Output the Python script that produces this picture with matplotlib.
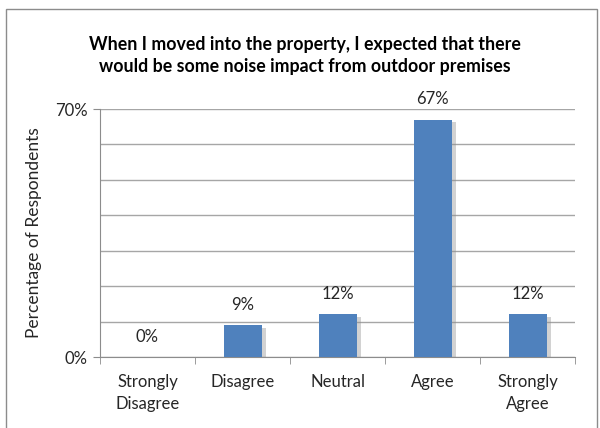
import matplotlib.pyplot as plt
import matplotlib.patheffects as pe
import matplotlib.ticker as mticker
from matplotlib.patches import Rectangle

categories = ['Strongly\nDisagree', 'Disagree', 'Neutral', 'Agree', 'Strongly\nAgree']
percent = [0, 9, 12, 67, 12]
title = 'When I moved into the property, I expected that there\nwould be some noise impact from outdoor premises'

plt.rcParams['font.family'] = ['Lato', 'DejaVu Sans']

fig = plt.figure(figsize=(6, 4.28), dpi=100)
# outer chart frame
fig.patches.append(Rectangle((0.010, -0.01), 0.985, 0.99, transform=fig.transFigure,
                             fill=False, edgecolor='#8c8c8c', linewidth=1.0))

ax = fig.add_axes([100 / 600, 1 - 357 / 428, 475 / 600, 248 / 428])

x = range(len(categories))
shadow = [pe.SimplePatchShadow(offset=(3, -2), shadow_rgbFace='#8f8f8f', alpha=0.4), pe.Normal()]
bars = ax.bar(x, percent, width=0.4, color='#4f81bd', zorder=3)
for b in bars:
    b.set_path_effects(shadow)

for xi, v in zip(x, percent):
    ax.annotate(f'{v}%', (xi, v), xytext=(0, 9), textcoords='offset points',
                ha='center', va='bottom', fontsize=12, color='#262626')

ax.set_xlim(-0.5, len(categories) - 0.5)
ax.set_ylim(0, 70)
ax.yaxis.set_major_locator(mticker.FixedLocator([0, 70]))
ax.yaxis.set_major_formatter(mticker.FuncFormatter(lambda y, _: f'{y:.0f}%'))
ax.yaxis.set_minor_locator(mticker.MultipleLocator(10))
ax.grid(axis='y', which='both', color='#a6a6a6', linewidth=1.0, zorder=0)
ax.set_axisbelow(True)

ax.set_xticks(x)
ax.set_xticklabels(categories, fontsize=12, color='#262626', linespacing=1.45)
ax.set_xticks([i - 0.5 for i in range(len(categories) + 1)], minor=True)
ax.tick_params(axis='x', which='major', length=0, pad=12)
ax.tick_params(axis='x', which='minor', length=5, color='#8c8c8c')
ax.tick_params(axis='y', which='major', length=5, color='#8c8c8c', labelsize=12,
               labelcolor='#262626', pad=4)
ax.tick_params(axis='y', which='minor', length=0)

for side in ['top', 'right']:
    ax.spines[side].set_visible(False)
for side in ['left', 'bottom']:
    ax.spines[side].set_color('#8c8c8c')

ax.set_ylabel('Percentage of Respondents', fontsize=12.5, color='#262626', labelpad=9)
fig.text(0.508, 0.87, title, ha='center', va='center', fontsize=12.8, fontweight='bold',
         linespacing=1.4)

fig.savefig('out.png', dpi=100)
